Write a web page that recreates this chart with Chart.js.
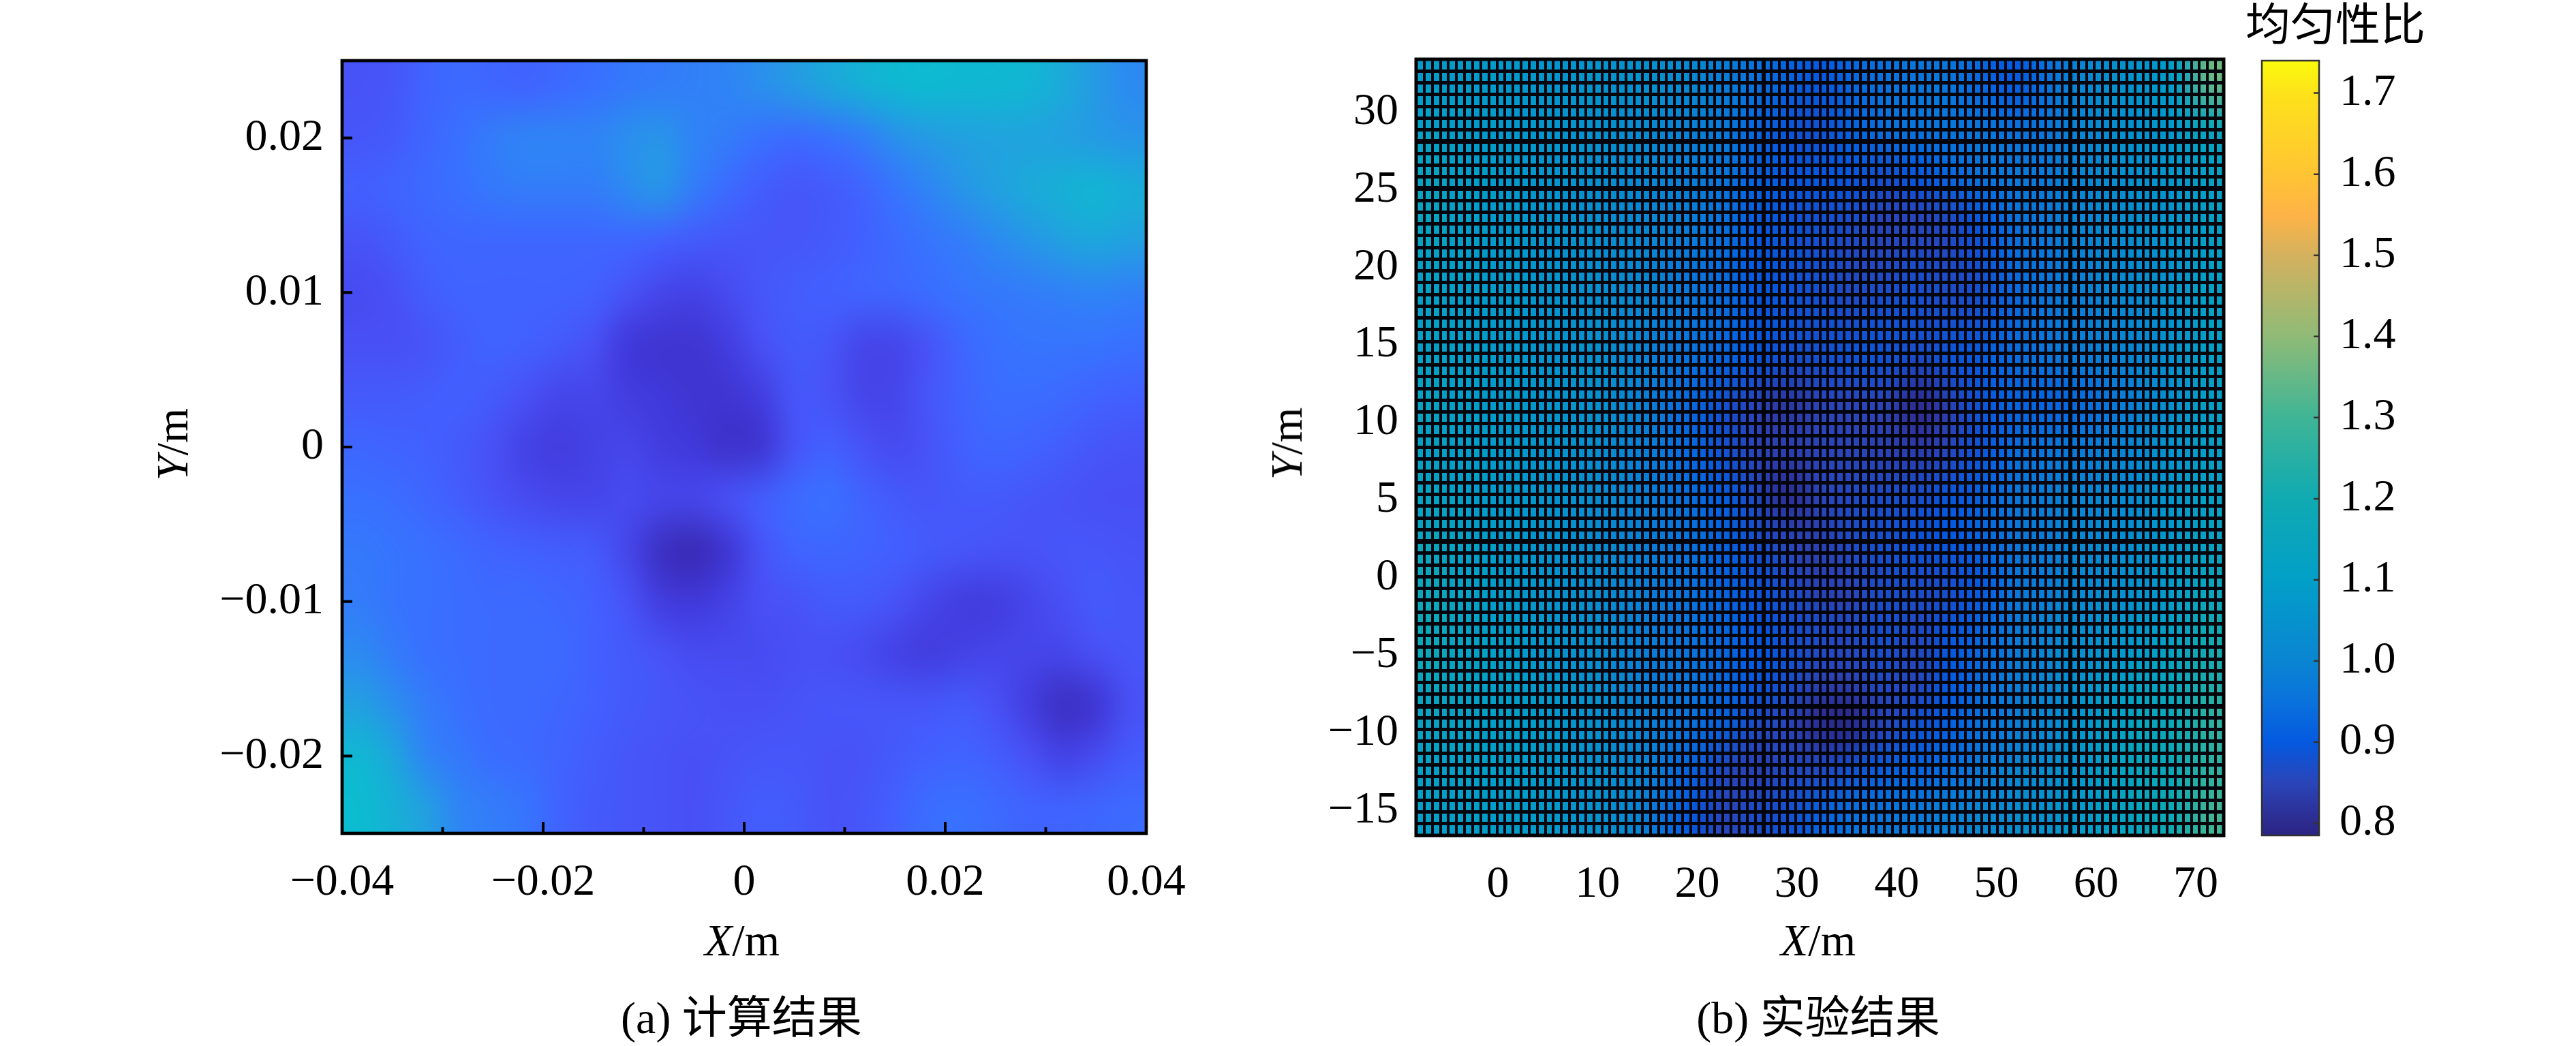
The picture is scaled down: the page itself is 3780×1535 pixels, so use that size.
<!DOCTYPE html>
<html>
<head>
<meta charset="utf-8">
<script src="https://cdn.jsdelivr.net/npm/chart.js@4"></script>
<style>
  html,body{margin:0;background:#fff;overflow:hidden;}
  #page{position:relative;width:3780px;height:1535px;font-family:"Liberation Serif","Noto Sans CJK SC",serif;font-size:66px;color:#000;}
  canvas{position:absolute;}
  .t{position:absolute;white-space:nowrap;line-height:1;transform:translate(-50%,-50%);}
  .r{transform:translate(-50%,-50%) rotate(-90deg);}
</style>
</head>
<body>
<div id="page">
  <canvas id="calc"></canvas>
  <canvas id="expt"></canvas>
  <canvas id="bar"></canvas>
  <div class="t" style="left:1089px;top:1380px"><i>X</i>/m</div>
  <div class="t r" style="left:253px;top:652px"><i>Y</i>/m</div>
  <div class="t" style="left:1088px;top:1494px">(a) 计算结果</div>
  <div class="t" style="left:2668px;top:1380px"><i>X</i>/m</div>
  <div class="t r" style="left:1888px;top:651px"><i>Y</i>/m</div>
  <div class="t" style="left:2668px;top:1494px">(b) 实验结果</div>
  <div class="t" style="left:3427px;top:37px">均匀性比</div>
</div>
<script>
// (a) tick values and labels
const aXTicks = [-0.04,-0.02,0,0.02,0.04];
const aXLabels = ['−0.04','−0.02','0','0.02','0.04'];
const aXMinor = [-0.03,-0.01,0.01,0.03];
const aYTicks = [-0.02,-0.01,0,0.01,0.02];
const aYLabels = ['−0.02','−0.01','0','0.01','0.02'];

// (a) colours used by the computed map
const aLevels = [0.80,0.85,0.90,0.95,1.00,1.05,1.10,1.15,1.20];
const aColors = ['#3a2ab4','#4038da','#4850f5','#4260ff','#3870ff','#2f84f5','#22a0e0','#16b0d5','#0cbcd0'];

// (a) computed uniformity ratio, top row first, 24 x 15 cells
const aValues = [
  [0.91,0.92,0.96,0.98,0.97,0.96,0.98,1.00,1.02,1.03,1.04,1.05,1.07,1.09,1.12,1.15,1.18,1.19,1.18,1.18,1.17,1.13,1.09,1.06],
  [0.92,0.93,0.97,1.00,1.03,1.05,1.05,1.05,1.07,1.08,1.05,1.03,1.00,0.98,1.00,1.03,1.07,1.09,1.10,1.11,1.11,1.10,1.09,1.08],
  [0.95,0.96,0.98,1.00,1.02,1.03,1.03,1.03,1.06,1.08,1.03,0.98,0.94,0.92,0.93,0.96,1.01,1.05,1.08,1.10,1.13,1.15,1.17,1.14],
  [0.91,0.93,0.96,0.97,0.97,0.97,0.97,0.97,0.97,0.95,0.93,0.92,0.92,0.92,0.93,0.95,0.98,1.01,1.03,1.06,1.08,1.10,1.12,1.10],
  [0.89,0.90,0.94,0.96,0.96,0.96,0.96,0.95,0.91,0.88,0.87,0.89,0.92,0.94,0.95,0.96,0.97,0.99,1.01,1.02,1.03,1.04,1.05,1.04],
  [0.90,0.90,0.91,0.94,0.96,0.95,0.93,0.90,0.85,0.84,0.84,0.86,0.90,0.93,0.92,0.88,0.88,0.91,0.97,1.00,1.01,1.01,1.01,1.00],
  [0.93,0.93,0.94,0.95,0.93,0.90,0.88,0.88,0.86,0.85,0.84,0.84,0.86,0.92,0.91,0.88,0.88,0.92,0.96,0.99,0.99,0.98,0.96,0.95],
  [0.97,0.96,0.95,0.93,0.90,0.87,0.86,0.87,0.88,0.86,0.85,0.83,0.84,0.91,0.95,0.91,0.89,0.91,0.95,0.97,0.96,0.94,0.92,0.91],
  [1.00,0.99,0.97,0.94,0.91,0.89,0.88,0.88,0.89,0.88,0.88,0.90,0.94,0.98,1.00,0.96,0.93,0.92,0.93,0.93,0.92,0.91,0.90,0.90],
  [1.02,1.01,1.00,0.98,0.96,0.95,0.94,0.93,0.88,0.82,0.80,0.84,0.91,0.96,0.97,0.96,0.95,0.93,0.92,0.91,0.91,0.92,0.92,0.91],
  [1.03,1.01,1.00,0.99,0.98,0.98,0.97,0.95,0.91,0.86,0.85,0.87,0.90,0.91,0.93,0.93,0.91,0.88,0.86,0.86,0.88,0.90,0.93,0.92],
  [1.06,1.03,1.00,0.99,0.98,0.98,0.98,0.95,0.93,0.91,0.89,0.89,0.89,0.90,0.90,0.89,0.87,0.86,0.87,0.88,0.88,0.88,0.90,0.92],
  [1.10,1.07,1.03,1.00,0.98,0.98,0.97,0.95,0.93,0.92,0.91,0.90,0.90,0.91,0.92,0.92,0.92,0.92,0.93,0.90,0.86,0.82,0.84,0.90],
  [1.18,1.12,1.05,1.02,0.99,0.98,0.96,0.94,0.92,0.91,0.90,0.91,0.92,0.92,0.91,0.91,0.93,0.95,0.96,0.94,0.90,0.87,0.89,0.93],
  [1.20,1.15,1.10,1.05,1.03,1.01,0.96,0.93,0.92,0.91,0.90,0.92,0.94,0.93,0.91,0.92,0.95,0.99,1.00,0.98,0.96,0.96,0.97,0.98]
];

// (b) tick values
const bXTicks = [0,10,20,30,40,50,60,70];
const bYTicks = [-15,-10,-5,0,5,10,15,20,25,30];
const bYLabels = ['−15','−10','−5','0','5','10','15','20','25','30'];

// (b) measured uniformity ratio, top row first, 25 x 17 cells
const bValues = [
  [1.09,1.09,1.08,1.07,1.06,1.06,1.05,1.04,1.01,0.98,0.95,0.92,0.90,0.93,0.95,0.96,0.96,0.93,0.90,0.95,1.00,1.04,1.06,1.10,1.35],
  [1.11,1.09,1.08,1.07,1.06,1.05,1.03,1.01,0.99,0.97,0.93,0.89,0.88,0.92,0.95,0.96,0.96,0.96,0.95,0.96,1.00,1.03,1.05,1.08,1.15],
  [1.14,1.10,1.08,1.07,1.06,1.04,1.02,1.00,0.98,0.96,0.92,0.90,0.90,0.90,0.88,0.90,0.93,0.96,0.97,0.97,1.00,1.03,1.05,1.07,1.12],
  [1.14,1.10,1.08,1.07,1.05,1.04,1.02,1.00,0.98,0.95,0.91,0.89,0.88,0.87,0.85,0.85,0.86,0.90,0.95,0.97,1.00,1.02,1.04,1.06,1.11],
  [1.12,1.10,1.08,1.07,1.05,1.04,1.02,0.99,0.96,0.94,0.90,0.89,0.88,0.86,0.86,0.87,0.86,0.88,0.94,0.96,0.99,1.01,1.03,1.06,1.11],
  [1.12,1.09,1.08,1.07,1.05,1.04,1.02,0.99,0.96,0.94,0.90,0.89,0.88,0.87,0.88,0.88,0.87,0.88,0.93,0.96,0.98,1.00,1.02,1.06,1.11],
  [1.12,1.10,1.08,1.07,1.05,1.05,1.01,0.98,0.95,0.93,0.90,0.88,0.88,0.89,0.89,0.87,0.89,0.91,0.94,0.96,0.98,0.99,1.01,1.05,1.11],
  [1.13,1.10,1.08,1.07,1.06,1.05,1.01,0.97,0.93,0.88,0.85,0.82,0.85,0.85,0.85,0.80,0.84,0.89,0.92,0.92,0.93,0.96,1.00,1.05,1.11],
  [1.12,1.10,1.08,1.07,1.05,1.04,1.00,0.97,0.93,0.88,0.85,0.84,0.85,0.85,0.84,0.83,0.85,0.89,0.94,0.96,0.97,0.99,1.02,1.06,1.11],
  [1.13,1.10,1.08,1.07,1.05,1.03,1.00,0.97,0.94,0.91,0.86,0.80,0.85,0.86,0.87,0.87,0.89,0.92,0.96,0.98,1.00,1.01,1.03,1.07,1.12],
  [1.15,1.11,1.09,1.07,1.05,1.03,1.00,0.97,0.95,0.92,0.88,0.85,0.84,0.87,0.88,0.89,0.90,0.93,0.96,0.98,1.01,1.02,1.05,1.08,1.13],
  [1.17,1.12,1.09,1.07,1.05,1.03,1.00,0.97,0.95,0.92,0.89,0.87,0.84,0.85,0.87,0.87,0.87,0.90,0.96,0.98,1.01,1.03,1.05,1.09,1.15],
  [1.18,1.13,1.10,1.08,1.05,1.04,1.00,0.97,0.95,0.93,0.90,0.88,0.87,0.86,0.88,0.86,0.89,0.93,0.97,1.00,1.03,1.05,1.08,1.12,1.20],
  [1.16,1.13,1.11,1.08,1.06,1.04,1.00,0.97,0.96,0.93,0.90,0.88,0.85,0.85,0.87,0.85,0.90,0.94,0.98,1.00,1.05,1.08,1.12,1.15,1.22],
  [1.14,1.12,1.11,1.09,1.07,1.05,1.01,0.98,0.95,0.92,0.87,0.85,0.80,0.79,0.85,0.88,0.91,0.95,0.98,1.01,1.06,1.11,1.15,1.18,1.26],
  [1.12,1.11,1.10,1.09,1.07,1.05,1.02,0.98,0.92,0.86,0.84,0.86,0.86,0.88,0.91,0.92,0.94,0.97,1.00,1.03,1.07,1.12,1.16,1.18,1.26],
  [1.10,1.10,1.09,1.09,1.07,1.05,1.02,0.96,0.90,0.85,0.87,0.88,0.92,0.95,0.96,0.97,0.99,1.01,1.03,1.05,1.08,1.12,1.16,1.20,1.30]
];

// colour bar
const cbTicks = [0.8,0.9,1.0,1.1,1.2,1.3,1.4,1.5,1.6,1.7];
const cbLabels = ['0.8','0.9','1.0','1.1','1.2','1.3','1.4','1.5','1.6','1.7'];
const cbLevels = [0.785,0.80,0.85,0.90,0.95,1.00,1.10,1.20,1.30,1.40,1.50,1.55,1.60,1.70,1.74];
const cbColors = ['#2a2484','#2d2a8e','#2a45b8','#0459e0','#0a72dc','#0a85d2','#029fc8','#10aab2','#3fb596','#8fbb77','#d4b15e','#feb347','#ffc433','#fde21a','#fbfb0c'];

// mesh drawn over (b): 100 columns, 66 rows; a few lines look heavier in the scan
const meshCols = 100, meshRows = 66;
const heavyCols = [43,81];
const heavyRows = [11,25,55,59];

const FONT = {family:'"Liberation Serif"', size:66, lineHeight:1};
Chart.defaults.devicePixelRatio = 1;

function hex(c){ return [1,3,5].map(i=>parseInt(c.slice(i,i+2),16)); }
function colorOf(v, levels, colors){
  let i = 0;
  while(i<levels.length-2 && v>levels[i+1]) i++;
  const f = Math.min(1,Math.max(0,(v-levels[i])/(levels[i+1]-levels[i])));
  const a = hex(colors[i]), b = hex(colors[i+1]);
  return 'rgb('+a.map((x,k)=>Math.round(x+(b[k]-x)*f)).join(',')+')';
}

// places the canvas and fixes the plot box to the pixel position in the page
function place(id, left, top, width, height){
  const c = document.getElementById(id);
  c.style.left = left+'px'; c.style.top = top+'px';
  c.width = width; c.height = height;
  return c;
}

function cellPoints(values, xMin, xMax, yMin, yMax){
  const ny = values.length, nx = values[0].length, pts = [];
  values.forEach((row,j)=>row.forEach((v,i)=>{
    pts.push({x:xMin+(i+0.5)*(xMax-xMin)/nx, y:yMax-(j+0.5)*(yMax-yMin)/ny, v:v});
  }));
  return pts;
}

// resample the drawn cells so the map reads as interpolated shading
function shading(nx, ny){
  return {
    id:'shading',
    afterDatasetsDraw(chart){
      const a = chart.chartArea, ctx = chart.ctx;
      const c = document.createElement('canvas');
      c.width = nx; c.height = ny;
      const t = c.getContext('2d');
      t.imageSmoothingEnabled = false;
      t.drawImage(chart.canvas, a.left, a.top, a.width, a.height, 0, 0, nx, ny);
      ctx.save();
      ctx.imageSmoothingEnabled = true;
      ctx.imageSmoothingQuality = 'high';
      ctx.drawImage(c, a.left, a.top, a.width, a.height);
      ctx.restore();
    }
  };
}

// box round the plot and tick marks pointing inwards
function frame(lineWidth, color, marks){
  return {
    id:'frame',
    afterDraw(chart){
      const a = chart.chartArea, ctx = chart.ctx;
      ctx.save();
      ctx.strokeStyle = color;
      ctx.lineWidth = lineWidth;
      ctx.strokeRect(a.left, a.top, a.width, a.height);
      marks.forEach(m=>{
        const s = chart.scales[m.axis];
        ctx.lineWidth = m.width;
        ctx.beginPath();
        m.values.forEach(v=>{
          const p = s.getPixelForValue(v);
          if(m.side==='bottom'){ ctx.moveTo(p,a.bottom); ctx.lineTo(p,a.bottom-m.len); }
          if(m.side==='left'){ ctx.moveTo(a.left,p); ctx.lineTo(a.left+m.len,p); }
          if(m.side==='right'){ ctx.moveTo(a.right,p); ctx.lineTo(a.right-m.len,p); }
        });
        ctx.stroke();
      });
      ctx.restore();
    }
  };
}

function axis(position, min, max, ticks, labels, size, padding){
  const horizontal = position==='bottom';
  return {
    type:'linear', position:position, min:min, max:max,
    afterBuildTicks: a=>{ a.ticks = ticks.map(v=>({value:v})); },
    afterFit: a=>{
      if(horizontal) a.height = size; else a.width = size;
      a.paddingLeft = a.paddingRight = a.paddingTop = a.paddingBottom = 0;
    },
    grid:{display:false, drawTicks:false},
    border:{display:false},
    ticks:{
      autoSkip:false, maxRotation:0, minRotation:0, padding:padding, color:'#000', font:FONT,
      callback:(v,i)=>labels[i]
    }
  };
}

function meshAxis(position, min, max, count, heavy, width){
  const horizontal = position==='bottom';
  const values = [];
  for(let i=1;i<count;i++) values.push(min+i*(max-min)/count);
  return {
    type:'linear', position:position, min:min, max:max,
    afterBuildTicks: a=>{ a.ticks = values.map(v=>({value:v})); },
    afterFit: a=>{
      if(horizontal) a.height = 0; else a.width = 0;
      a.paddingLeft = a.paddingRight = a.paddingTop = a.paddingBottom = 0;
    },
    grid:{z:1, color:'#03030c', drawTicks:false, lineWidth: c=>heavy.includes(c.index+1) ? width+2 : width},
    border:{display:false},
    ticks:{display:false}
  };
}

const base = {responsive:false, animation:false, events:[], plugins:{legend:{display:false},tooltip:{enabled:false}}};

// (a) plot box 502..1682 x 89..1223
const aPts = cellPoints(aValues,-0.04,0.04,-0.025,0.025);
new Chart(place('calc',300,40,1500,1300),{
  type:'scatter',
  data:{datasets:[{
    data:aPts,
    pointStyle:'rect',
    pointRadius:(76+2)/2*Math.SQRT2,
    pointBorderWidth:0,
    pointBackgroundColor:aPts.map(p=>colorOf(p.v,aLevels,aColors))
  }]},
  options:Object.assign({},base,{
    layout:{autoPadding:false,padding:{left:0,top:49,right:118,bottom:0}},
    scales:{
      x:axis('bottom',-0.04,0.04,aXTicks,aXLabels,117,40),
      y:axis('left',-0.025,0.025,aYTicks,aYLabels,202,27)
    }
  }),
  plugins:[shading(aValues[0].length,aValues.length),frame(4.7,'#000',[
    {axis:'x',side:'bottom',values:aXTicks,len:17,width:4},
    {axis:'x',side:'bottom',values:aXMinor,len:9,width:4},
    {axis:'y',side:'left',values:aYTicks,len:15,width:4}
  ])]
});

// (b) plot box 2078..3263 x 87..1226
const bPts = cellPoints(bValues,-8.2,72.8,-16.6,33.4);
new Chart(place('expt',1900,40,1500,1300),{
  type:'scatter',
  data:{datasets:[{
    data:bPts,
    xAxisID:'x', yAxisID:'y',
    pointStyle:'rect',
    pointRadius:(67+2)/2*Math.SQRT2,
    pointBorderWidth:0,
    pointBackgroundColor:bPts.map(p=>colorOf(p.v,cbLevels,cbColors))
  }]},
  options:Object.assign({},base,{
    layout:{autoPadding:false,padding:{left:0,top:47,right:137,bottom:0}},
    scales:{
      x:axis('bottom',-8.2,72.8,bXTicks,bXTicks.map(String),114,40),
      y:axis('left',-16.6,33.4,bYTicks,bYLabels,178,26),
      gx:meshAxis('bottom',-8.2,72.8,meshCols,heavyCols,4),
      gy:meshAxis('left',-16.6,33.4,meshRows,heavyRows,5)
    }
  }),
  plugins:[shading(bValues[0].length,bValues.length),frame(5,'#000',[])]
});

// colour bar, box 3319..3403 x 89..1226
const cbMin = cbLevels[0], cbMax = cbLevels[cbLevels.length-1];
new Chart(place('bar',3250,40,450,1240),{
  type:'bar',
  data:{labels:['均匀性比'],datasets:[{
    data:[[cbMin,cbMax]],
    barPercentage:1, categoryPercentage:1,
    backgroundColor(c){
      const y0 = c.chart.scales.y.getPixelForValue(cbMin), y1 = c.chart.scales.y.getPixelForValue(cbMax);
      if(!isFinite(y0) || !isFinite(y1)) return cbColors[0];
      const g = c.chart.ctx.createLinearGradient(0,y0,0,y1);
      cbLevels.forEach((v,i)=>g.addColorStop((v-cbMin)/(cbMax-cbMin),cbColors[i]));
      return g;
    }
  }]},
  options:Object.assign({},base,{
    layout:{autoPadding:false,padding:{left:69,top:49,right:0,bottom:54}},
    scales:{
      x:{display:false},
      y:axis('right',cbMin,cbMax,cbTicks,cbLabels,297,30)
    }
  }),
  plugins:[frame(2.5,'#333',[{axis:'y',side:'right',values:cbTicks,len:8,width:2.5}])]
});
</script>
</body>
</html>
